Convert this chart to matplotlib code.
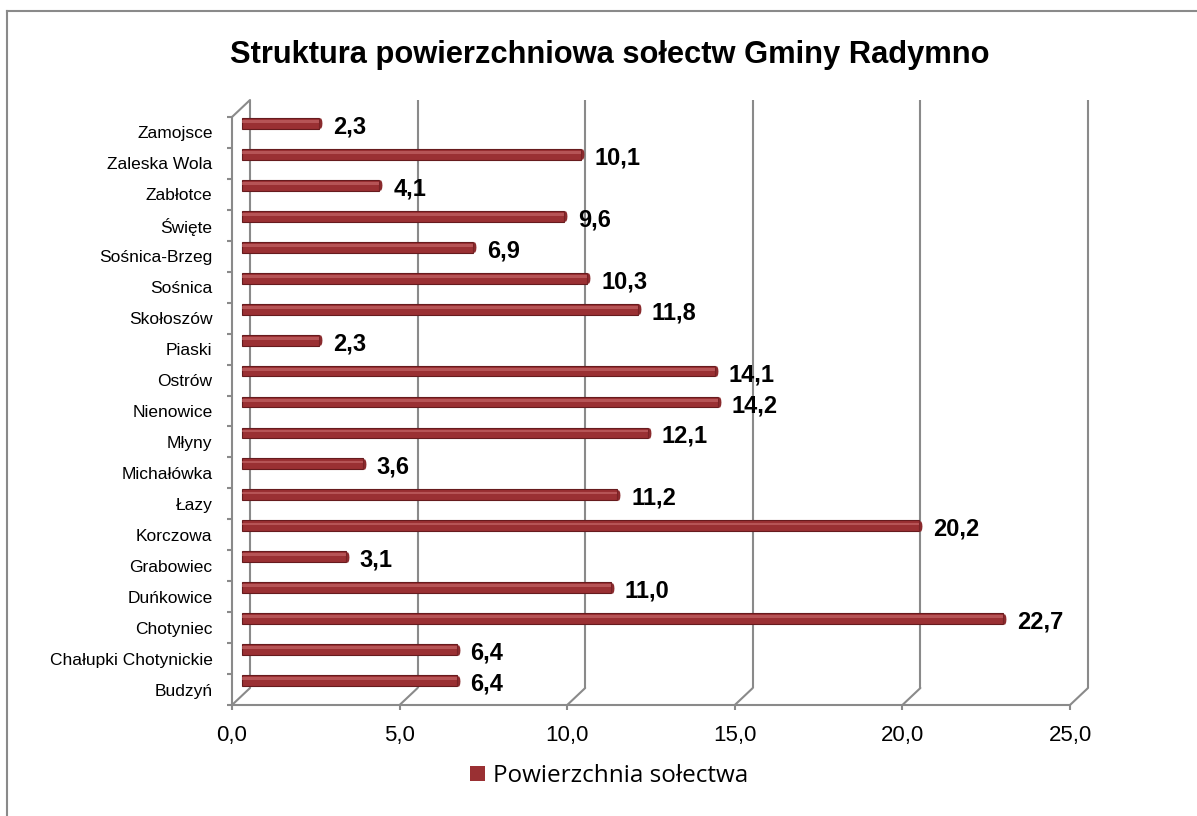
import matplotlib
matplotlib.use("Agg")
import matplotlib.pyplot as plt
import matplotlib.transforms as mtransforms
from matplotlib.patches import ConnectionPatch, Patch
from matplotlib.lines import Line2D
import numpy as np

categories = ["Budzyń", "Chałupki Chotynickie", "Chotyniec", "Duńkowice", "Grabowiec",
              "Korczowa", "Łazy", "Michałówka", "Młyny", "Nienowice", "Ostrów", "Piaski",
              "Skołoszów", "Sośnica", "Sośnica-Brzeg", "Święte", "Zabłotce",
              "Zaleska Wola", "Zamojsce"]
values = [6.4, 6.4, 22.7, 11.0, 3.1, 20.2, 11.2, 3.6, 12.1, 14.2, 14.1, 2.3,
          11.8, 10.3, 6.9, 9.6, 4.1, 10.1, 2.3]
x_ticks = [0, 5, 10, 15, 20, 25]
x_tick_labels = ["0,0", "5,0", "10,0", "15,0", "20,0", "25,0"]
title = "Struktura powierzchniowa sołectw Gminy Radymno"
legend_label = "Powierzchnia sołectwa"

W, H = 1197, 816
fig = plt.figure(figsize=(W / 100, H / 100), dpi=100)
fig.patch.set_facecolor("white")

L, R, B, T = 232, 1070, 705, 117
ax = fig.add_axes([L / W, 1 - B / H, (R - L) / W, (B - T) / H])
ax.set_facecolor("none")
ax.set_xlim(0, 25)
n = len(categories)
ax.set_ylim(-0.5, n - 0.5)

grid_c = "#8A8A8A"
lw = 1.5
depth_x, depth_y = 18, 17
back = mtransforms.offset_copy(ax.transData, fig=fig, x=depth_x, y=depth_y, units="dots")
mid = mtransforms.offset_copy(ax.transData, fig=fig, x=10, y=9, units="dots")
lab = mtransforms.offset_copy(ax.transData, fig=fig, x=24, y=-1, units="dots")

# back wall gridlines + floor diagonals
for xv in x_ticks:
    ax.plot([xv, xv], [-0.5, n - 0.5], color=grid_c, lw=lw, transform=back,
            clip_on=False, zorder=1, solid_capstyle="butt")
    con = ConnectionPatch(xyA=(xv, -0.5), coordsA=ax.transData,
                          xyB=(xv, -0.5), coordsB=back, color=grid_c, lw=lw)
    fig.add_artist(con)
con = ConnectionPatch(xyA=(0, n - 0.5), coordsA=ax.transData,
                      xyB=(0, n - 0.5), coordsB=back, color=grid_c, lw=lw)
fig.add_artist(con)

# bars (cylinder-like)
y = np.arange(n)
ax.barh(y, values, height=0.35, color="#9A3033", edgecolor="#661B1E",
        linewidth=0.8, transform=mid, clip_on=False, zorder=3)
ax.barh(y + 0.06, values, height=0.09, color="#C26466", linewidth=0,
        transform=mid, clip_on=False, zorder=4, alpha=0.7)
ax.scatter(values, y, s=60, marker=(np.array([[0, -1], [0.35, -0.9], [0.5, -0.5], [0.55, 0],
                                             [0.5, 0.5], [0.35, 0.9], [0, 1], [0, -1]])),
           color="#8A2A2D", transform=mid, clip_on=False, zorder=5, linewidths=0)

for yi, v in zip(y, values):
    ax.text(v, yi, f"{v:.1f}".replace(".", ","), transform=lab, ha="left",
            va="baseline", fontsize=17, fontweight="bold",
            family="Liberation Sans", zorder=6)

for s in ["top", "right"]:
    ax.spines[s].set_visible(False)
for s in ["left", "bottom"]:
    ax.spines[s].set_color(grid_c)
    ax.spines[s].set_linewidth(lw)

ax.set_xticks(x_ticks)
ax.set_xticklabels(x_tick_labels, family="Liberation Sans", fontsize=16)
ax.set_yticks(y)
ax.set_yticklabels(categories, family="Liberation Sans", fontsize=12.5)
ax.set_yticks(np.arange(-0.5, n, 1.0), minor=True)
ax.tick_params(axis="y", which="major", length=0, pad=14)
ax.tick_params(axis="y", which="minor", length=3.6, width=lw, color=grid_c)
ax.tick_params(axis="x", which="major", length=3.6, width=lw, color=grid_c, pad=11)

fig.text(610 / W, 1 - 55 / H, title, ha="center", va="center", fontsize=22.2,
         fontweight="bold", family="Liberation Sans")

fig.legend(handles=[Patch(facecolor="#9A3033", edgecolor="none", label=legend_label)],
           loc="center", bbox_to_anchor=(609 / W, 1 - 776 / H), frameon=False,
           prop={"family": "Open Sans", "size": 17.5}, handlelength=0.62,
           handleheight=0.62, handletextpad=0.35)

# outer frame (left and top edges visible)
fig.add_artist(Line2D([7 / W, 7 / W], [0, 1 - 11 / H], color=grid_c, lw=1.5))
fig.add_artist(Line2D([7 / W, 1], [1 - 11 / H, 1 - 11 / H], color=grid_c, lw=1.5))

fig.savefig("out.png", dpi=100)
